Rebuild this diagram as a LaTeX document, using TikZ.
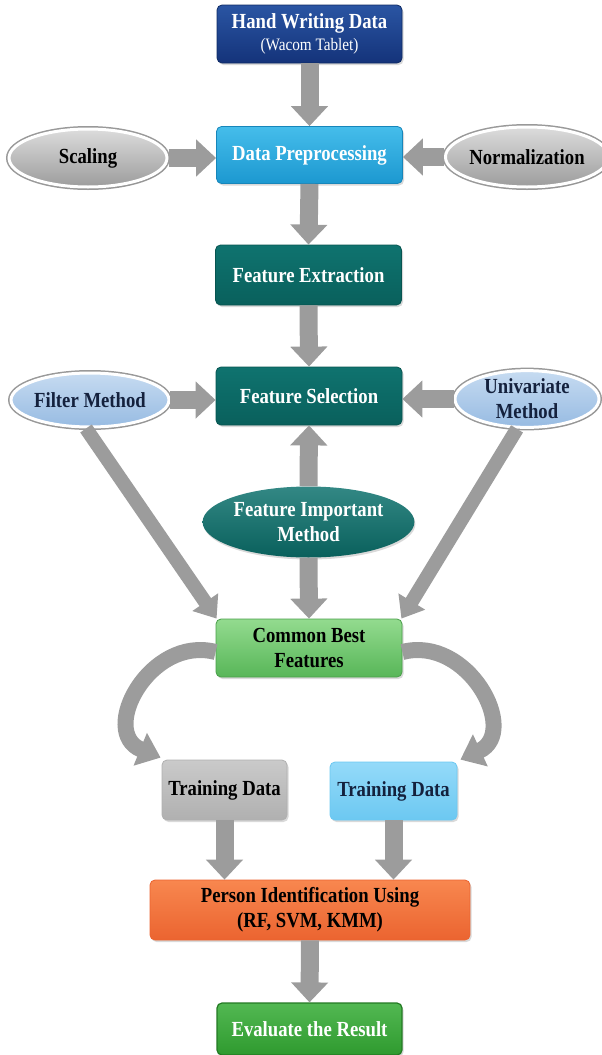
\documentclass[tikz,border=0pt]{standalone}
\usepackage{fontspec}
\setmainfont[FakeStretch=0.87]{Liberation Serif}
\usetikzlibrary{shapes.geometric,shadows,arrows.meta}
\definecolor{arrowgray}{HTML}{9C9C9C}
\definecolor{navytop}{HTML}{2A55A3}
\definecolor{navybot}{HTML}{14337A}
\definecolor{navyline}{HTML}{0E2A63}
\definecolor{cyantop}{HTML}{45BDEB}
\definecolor{cyanbot}{HTML}{1C98D0}
\definecolor{cyanline}{HTML}{1786BA}
\definecolor{tealtop}{HTML}{0F736F}
\definecolor{tealbot}{HTML}{09605C}
\definecolor{tealline}{HTML}{075450}
\definecolor{greentop}{HTML}{93DB8F}
\definecolor{greenbot}{HTML}{58B658}
\definecolor{greenline}{HTML}{4A9E4A}
\definecolor{graytop}{HTML}{CACACA}
\definecolor{graybot}{HTML}{B0B0B0}
\definecolor{ltbluetop}{HTML}{94DAF9}
\definecolor{ltbluebot}{HTML}{6CC8F1}
\definecolor{orangetop}{HTML}{F8874F}
\definecolor{orangebot}{HTML}{EB6430}
\definecolor{evtop}{HTML}{52B852}
\definecolor{evbot}{HTML}{2F9A2F}
\definecolor{evline}{HTML}{237A23}
\definecolor{ovgraytop}{HTML}{DCDCDC}
\definecolor{ovgraybot}{HTML}{9C9C9C}
\definecolor{ovbluetop}{HTML}{C6DBF1}
\definecolor{ovbluebot}{HTML}{97BBE2}
\definecolor{darktext}{HTML}{14213D}
\begin{document}
\begin{tikzpicture}[x=1pt,y=-1pt,
  lbl/.style={font=\bfseries\fontsize{21.5}{25}\selectfont, align=center},
  box/.style={lbl, rectangle, rounded corners=5pt, minimum width=186pt,
    minimum height=58pt, inner sep=2pt, line width=0.8pt,
    drop shadow={shadow xshift=1.5pt, shadow yshift=-2pt, opacity=0.3}},
  oval/.style={lbl, ellipse, draw=white, line width=3pt, inner sep=0pt,
    preaction={draw=black!40, line width=6pt},
    drop shadow={shadow xshift=1pt, shadow yshift=-2pt, opacity=0.25}},
  arr/.style={draw=arrowgray, line width=18pt, -{Triangle[width=36pt,length=20pt]}},
  darr/.style={draw=arrowgray, line width=14pt, -{Triangle[width=30pt,length=20pt]}},
  carr/.style={draw=arrowgray, line width=16pt, -{Triangle[width=34pt,length=22pt]}}
]
\useasboundingbox (0,0) rectangle (602,1055);

% nodes
\node[box, top color=navytop, bottom color=navybot, draw=navyline, text=white,
  minimum width=185pt, minimum height=58pt] (hw) at (309.5,34)
  {Hand Writing Data\\[-3pt]{\mdseries\fontsize{17.5}{19}\selectfont (Wacom Tablet)}};
\node[box, top color=cyantop, bottom color=cyanbot, draw=cyanline, text=white,
  minimum height=57pt] (dp) at (309.5,155) {Data Preprocessing};
\node[oval, top color=ovgraytop, bottom color=ovgraybot, text=black,
  minimum width=158pt, minimum height=58pt] (sc) at (88,158) {Scaling};
\node[oval, top color=ovgraytop, bottom color=ovgraybot, text=black,
  minimum width=144pt, minimum height=60pt] (nm) at (527,157) {Normalization};
\node[box, top color=tealtop, bottom color=tealbot, draw=tealline, text=white,
  minimum height=60pt] (fe) at (308.5,275) {Feature Extraction};
\node[box, top color=tealtop, bottom color=tealbot, draw=tealline, text=white,
  minimum height=58pt] (fs) at (309,396) {Feature Selection};
\node[oval, top color=ovbluetop, bottom color=ovbluebot, text=darktext,
  minimum width=148pt, minimum height=54pt] (fm) at (90,400) {Filter Method};
\node[oval, top color=ovbluetop, bottom color=ovbluebot, text=darktext,
  minimum width=144pt, minimum height=54pt] (uv) at (527,399) {Univariate\\Method};
\node[lbl, ellipse, inner sep=0pt, top color=tealtop!85!white, bottom color=tealbot, text=white,
  drop shadow={shadow xshift=1pt, shadow yshift=-2pt, opacity=0.3},
  minimum width=177pt, minimum height=71pt] (fi) at (308.5,522) {Feature Important\\Method};
\node[box, top color=greentop, bottom color=greenbot, draw=greenline, text=black,
  minimum height=58pt] (cb) at (309,648) {Common Best\\Features};
\node[box, top color=graytop, bottom color=graybot, draw=graybot, text=black,
  minimum width=125pt, minimum height=60pt] (td1) at (224.5,790) {Training Data};
\node[box, top color=ltbluetop, bottom color=ltbluebot, draw=ltbluebot, text=darktext,
  minimum width=127pt, minimum height=58pt] (td2) at (393.5,791) {Training Data};
\node[box, top color=orangetop, bottom color=orangebot, draw=orangebot, text=black,
  minimum width=320pt, minimum height=60pt] (pi) at (310,910)
  {Person Identification Using\\(RF, SVM, KMM)};
\node[box, top color=evtop, bottom color=evbot, draw=evline, line width=1.2pt, text=white,
  minimum width=185pt, minimum height=52pt] (ev) at (309.5,1029) {Evaluate the Result};

% connectors
\draw[arr] (hw.south) -- (dp.north);
\draw[arr] (sc.east) -- (dp.west |- sc.east);
\draw[arr] (nm.west) -- (dp.east |- nm.west);
\draw[arr] (dp.south) -- (fe.north);
\draw[arr] (fe.south) -- (fs.north);
\draw[arr] (fm.east) -- (fs.west |- fm.east);
\draw[arr] (uv.west) -- (fs.east |- uv.west);
\draw[arr] (fi.north) -- (fs.south);
\draw[arr] (fi.south) -- (cb.north);
\draw[darr] ([xshift=-4pt]fm.south) -- ([xshift=1pt]cb.north west);
\draw[darr] ([xshift=-10pt]uv.south) -- ([xshift=-1pt]cb.north east);
\draw[carr] ([yshift=-4pt]cb.west) .. controls (150,635) and (98,732) .. ([xshift=-1pt,yshift=2pt]td1.north west);
\draw[carr] ([yshift=-4pt]cb.east) .. controls (468,635) and (520,732) .. ([xshift=3pt,yshift=2pt]td2.north east);
\draw[arr] (td1.south) -- (td1.south |- pi.north);
\draw[arr] (td2.south) -- (td2.south |- pi.north);
\draw[arr] (pi.south) -- (ev.north);
\end{tikzpicture}
\end{document}
